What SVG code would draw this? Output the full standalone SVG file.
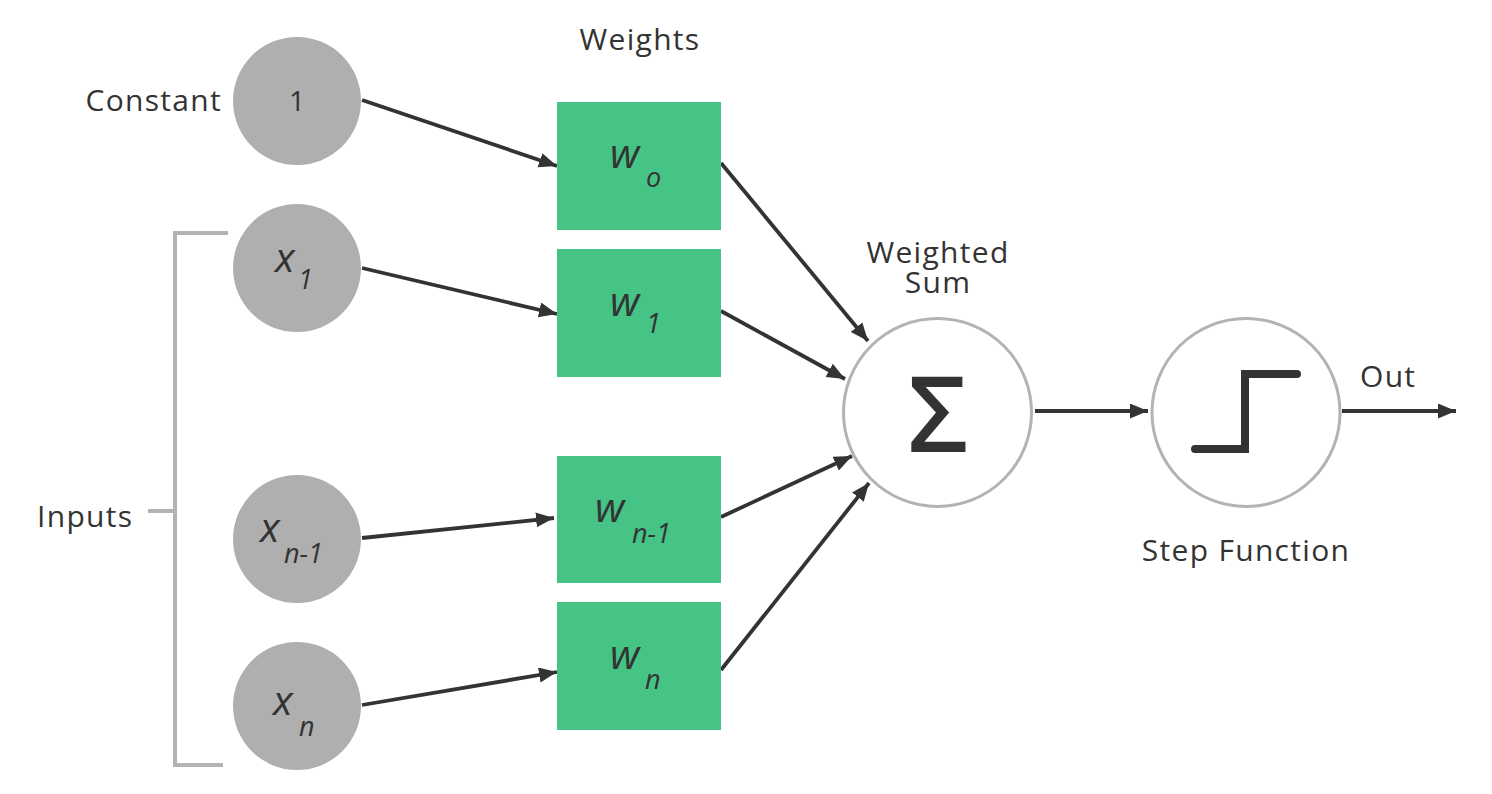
<svg xmlns="http://www.w3.org/2000/svg" width="1492" height="794" viewBox="0 0 1492 794">
<style>
.lbl{font-family:"Open Sans","Liberation Sans",sans-serif;font-size:30px;letter-spacing:1.3px;fill:#333333}
.var{font-family:"Open Sans","Liberation Sans",sans-serif;font-style:italic;font-size:41px;fill:#333333}
.sub{font-family:"Open Sans","Liberation Sans",sans-serif;font-style:italic;font-size:27px;fill:#333333}
.num{font-family:"Open Sans","Liberation Sans",sans-serif;font-size:28px;fill:#333333}
.in{fill:#afafaf}
.w{fill:#45c486}
.op{fill:#ffffff;stroke:#b3b3b3;stroke-width:3}
.br{fill:none;stroke:#b3b3b3;stroke-width:4}
.ed{stroke:#333333;stroke-width:3.8;fill:none;marker-end:url(#ah)}
</style>
<defs>
<marker id="ah" markerUnits="userSpaceOnUse" markerWidth="20" markerHeight="17" refX="18" refY="7.5" orient="auto">
<path d="M0,0 L18,7.5 L0,15 Z" fill="#333333"/>
</marker>
</defs>
<rect width="1492" height="794" fill="#ffffff"/>

<g id="labels">
<text class="lbl" x="222" y="111" text-anchor="end">Constant</text>
<text class="lbl" x="640" y="50" text-anchor="middle">Weights</text>
<text class="lbl" x="938" y="263" text-anchor="middle">Weighted</text>
<text class="lbl" x="938" y="293" text-anchor="middle">Sum</text>
<text class="lbl" x="37" y="527">Inputs</text>
<text class="lbl" x="1246" y="561" text-anchor="middle">Step Function</text>
<text class="lbl" x="1360" y="387">Out</text>
</g>

<g id="bracket">
<path class="br" d="M228,233 H175 V765 H223"/>
<path class="br" d="M148,511 H175"/>
</g>

<g id="connectors">
<line class="ed" x1="362" y1="100" x2="557" y2="166"/>
<line class="ed" x1="362" y1="268" x2="557" y2="314"/>
<line class="ed" x1="362" y1="538" x2="554" y2="518"/>
<line class="ed" x1="362" y1="705" x2="557" y2="672"/>
<line class="ed" x1="721" y1="163" x2="868" y2="341"/>
<line class="ed" x1="721" y1="311" x2="845" y2="379"/>
<line class="ed" x1="721" y1="517" x2="852" y2="456"/>
<line class="ed" x1="721" y1="670" x2="869" y2="483"/>
<line class="ed" x1="1035" y1="411" x2="1148" y2="411"/>
<line class="ed" x1="1342" y1="411" x2="1456" y2="411"/>
</g>

<g id="node-constant">
<circle class="in" cx="297" cy="101" r="64"/>
<text class="num" x="297" y="111" text-anchor="middle">1</text>
</g>
<g id="node-x1">
<circle class="in" cx="297" cy="268" r="64"/>
<text class="var" x="275" y="272">x</text>
<text class="sub" x="298" y="289">1</text>
</g>
<g id="node-xn-1">
<circle class="in" cx="297" cy="539" r="64"/>
<text class="var" x="260" y="542">x</text>
<text class="sub" x="284" y="563">n-1</text>
</g>
<g id="node-xn">
<circle class="in" cx="297" cy="706" r="64"/>
<text class="var" x="273" y="715">x</text>
<text class="sub" x="299" y="736">n</text>
</g>

<g id="node-w0">
<rect class="w" x="557" y="102" width="164" height="128"/>
<text class="var" x="610" y="168">w</text>
<text class="sub" x="646" y="187">o</text>
</g>
<g id="node-w1">
<rect class="w" x="557" y="249" width="164" height="128"/>
<text class="var" x="610" y="316">w</text>
<text class="sub" x="646" y="333">1</text>
</g>
<g id="node-wn-1">
<rect class="w" x="557" y="456" width="164" height="127"/>
<text class="var" x="595" y="522">w</text>
<text class="sub" x="632" y="543">n-1</text>
</g>
<g id="node-wn">
<rect class="w" x="557" y="602" width="164" height="128"/>
<text class="var" x="610" y="669">w</text>
<text class="sub" x="645" y="689">n</text>
</g>

<g id="node-sum">
<circle class="op" cx="937.5" cy="412.5" r="94"/>
<text x="938" y="452" text-anchor="middle" font-family="'Open Sans','Liberation Sans',sans-serif" font-weight="600" font-size="105" fill="#333333">Σ</text>
</g>

<g id="node-step">
<circle class="op" cx="1246" cy="412.5" r="94"/>
<path d="M1195,449 H1245 V374 H1297" fill="none" stroke="#333333" stroke-width="8" stroke-linecap="round" stroke-linejoin="miter"/>
</g>
</svg>
